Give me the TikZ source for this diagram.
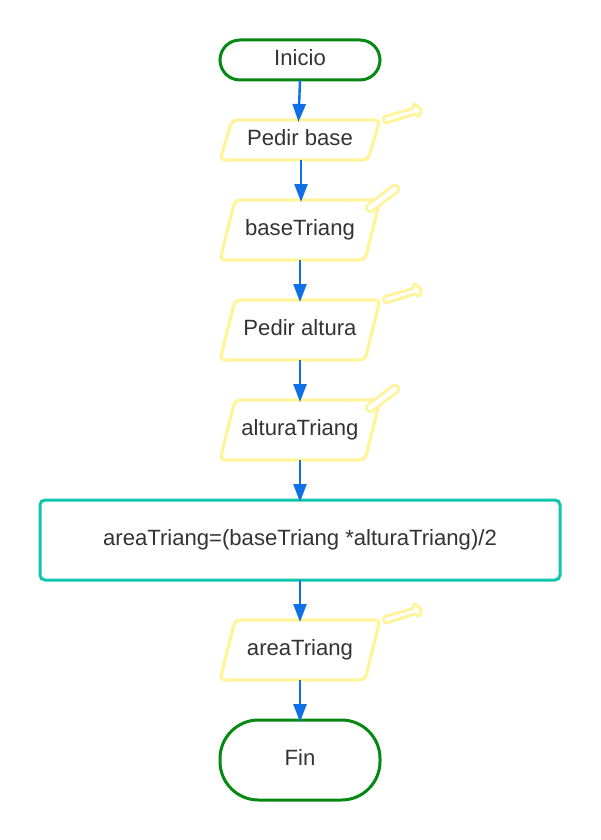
\documentclass[tikz,border=0pt]{standalone}
\usepackage{fontspec}
\setmainfont{Liberation Sans}
\usetikzlibrary{arrows.meta}
\definecolor{termgreen}{HTML}{048A12}
\definecolor{iolemon}{HTML}{FFF49C}
\definecolor{flowblue}{HTML}{0F6FE6}
\definecolor{procteal}{HTML}{10C4AE}
\definecolor{inkgrey}{HTML}{333333}
\tikzset{
  every node/.style={font=\fontsize{22.1}{26}\selectfont, text=inkgrey, inner sep=0pt, outer sep=0pt, text height=15pt, text depth=5pt},
  termbox/.style={draw=termgreen, line width=3pt, minimum width=160pt},
  ionode/.style={minimum width=160pt},
  procbox/.style={draw=procteal, line width=3pt, rounded corners=5pt, minimum width=520pt, minimum height=80pt},
  ioline/.style={draw=iolemon, line width=3.3pt, rounded corners=5pt, line join=round},
  flow/.style={draw=flowblue, line width=2.4pt, -{Triangle[length=18pt,width=13pt]}},
  noteout/.style={draw=iolemon, line width=3pt, line join=round, rounded corners=1.5pt},
  tubeout/.style={draw=iolemon, line width=10.5pt, line cap=round},
  tubein/.style={draw=white, line width=4.5pt, line cap=round}
}
\newcommand{\ioshape}[2]{%
  \draw[ioline] ([xshift=#2pt]#1.north west) -- (#1.north east) -- ([xshift=-#2pt]#1.south east) -- (#1.south west) -- cycle;}
\newcommand{\flagnote}[1]{%
  \draw[noteout] ([shift={(4.5,3.5)}]#1.north east) -- ([shift={(3,-3)}]#1.north east) -- ([shift={(33,-11.5)}]#1.north east) -- ([shift={(34,-17)}]#1.north east) -- ([shift={(42,-10)}]#1.north east) -- ([shift={(38,-2.5)}]#1.north east) -- ([shift={(36.5,-6.5)}]#1.north east) -- cycle;}
\newcommand{\tubenote}[1]{%
  \coordinate (#1t0) at ([shift={(-10,8)}]#1.north east);
  \coordinate (#1t1) at ([shift={(15,-11)}]#1.north east);
  \draw[tubeout] (#1t0) -- (#1t1);
  \draw[tubein] (#1t0) -- (#1t1);}
\begin{document}
\begin{tikzpicture}[x=1pt,y=-1pt]
\useasboundingbox (0,0) rectangle (600,840);
\node[termbox, rounded corners=20pt, minimum height=40pt] (inicio) at (300,60) {\raisebox{-0.5pt}{Inicio}};
\node[ionode, minimum height=40pt] (pbase) at (300,140) {Pedir base};
\node[ionode, minimum height=60pt] (base) at (300,230) {baseTriang};
\node[ionode, minimum height=60pt] (palt) at (300,330) {Pedir altura};
\node[ionode, minimum height=60pt] (alt) at (300,430) {alturaTriang};
\node[procbox] (calc) at (300,540) {areaTriang=(baseTriang *alturaTriang)/2};
\node[ionode, minimum height=60pt] (area) at (300,650) {areaTriang};
\node[termbox, rounded corners=38.5pt, minimum height=80pt] (fin) at (300,760) {Fin};
\flagnote{pbase}
\tubenote{base}
\flagnote{palt}
\tubenote{alt}
\flagnote{area}
\ioshape{pbase}{12}
\ioshape{base}{15}
\ioshape{palt}{15}
\ioshape{alt}{15}
\ioshape{area}{15}
\draw[tubein] (baset0) -- (baset1);
\draw[tubein] (altt0) -- (altt1);
\draw[flow] (inicio.south) -- ([xshift=-1.5pt,yshift=-2pt]pbase.north);
\draw[flow] ([xshift=1pt]pbase.south) -- ([xshift=1pt,yshift=-2pt]base.north);
\draw[flow] (base.south) -- ([yshift=-2pt]palt.north);
\draw[flow] (palt.south) -- ([yshift=-2pt]alt.north);
\draw[flow] (alt.south) -- ([yshift=-2pt]calc.north);
\draw[flow] (calc.south) -- ([yshift=-2pt]area.north);
\draw[flow] (area.south) -- ([yshift=-2pt]fin.north);
\end{tikzpicture}
\end{document}
